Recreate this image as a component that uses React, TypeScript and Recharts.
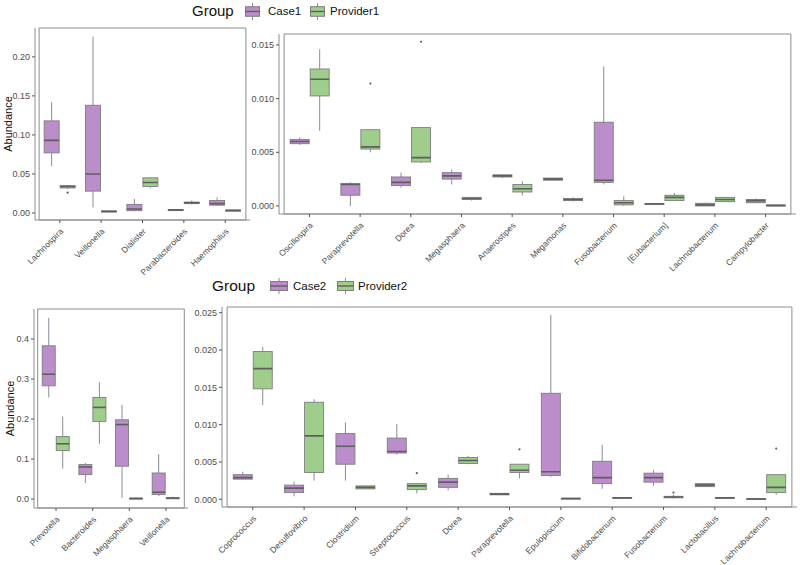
import React from 'react'
import { ComposedChart, Bar, XAxis, YAxis, ReferenceArea } from 'recharts'

// [whisker low, Q1, median, Q3, whisker high]
type Stats = number[]

const PURPLE = '#bb8dcb'
const GREEN = '#9fcd8b'
const EDGE = '#7d7d7d'
const FRAME = '#8e8e8e'
const TEXT = '#4d4d4d'

// top left panel
const genusA = ['Lachnospira', 'Veillonella', 'Dialister', 'Parabacteroides', 'Haemophilus']
const case1A: Stats[] = [
  [0.06, 0.077, 0.093, 0.118, 0.142],
  [0.007, 0.028, 0.05, 0.138, 0.226],
  [0.002, 0.003, 0.005, 0.011, 0.018],
  [0.0035, 0.0038, 0.004, 0.0043, 0.0046],
  [0.009, 0.01, 0.012, 0.016, 0.02],
]
const prov1A: Stats[] = [
  [0.031, 0.032, 0.034, 0.035, 0.036],
  [0.001, 0.0015, 0.002, 0.0025, 0.003],
  [0.032, 0.034, 0.039, 0.045, 0.046],
  [0.011, 0.012, 0.013, 0.014, 0.016],
  [0.0025, 0.003, 0.0033, 0.0036, 0.004],
]
const case1AOut: number[][] = [[], [], [], [], []]
const prov1AOut: number[][] = [[0.026], [], [], [], []]

// top right panel
const genusB = ['Oscillospira', 'Paraprevotella', 'Dorea', 'Megasphaera', 'Anaerostipes', 'Megamonas', 'Fusobacterium', '[Eubacterium]', 'Lachnobacterium', 'Campylobacter']
const case1B: Stats[] = [
  [0.0057, 0.0058, 0.006, 0.0062, 0.0064],
  [0.0, 0.001, 0.002, 0.0021, 0.0022],
  [0.0017, 0.0019, 0.0022, 0.0027, 0.0031],
  [0.002, 0.0025, 0.0028, 0.0031, 0.0034],
  [0.0026, 0.0027, 0.0028, 0.0029, 0.0029],
  [0.0024, 0.0024, 0.0025, 0.0026, 0.0026],
  [0.002, 0.0022, 0.0024, 0.0078, 0.013],
  [0.00015, 0.00018, 0.0002, 0.00022, 0.00025],
  [0.0, 0.0, 0.0001, 0.00025, 0.0003],
  [0.0003, 0.0003, 0.0005, 0.0006, 0.0007],
]
const prov1B: Stats[] = [
  [0.007, 0.01025, 0.0118, 0.01276, 0.0146],
  [0.005, 0.0053, 0.0055, 0.0071, 0.0071],
  [0.004, 0.0041, 0.0045, 0.0073, 0.0073],
  [0.0005, 0.0006, 0.0007, 0.0008, 0.0008],
  [0.001, 0.0013, 0.0016, 0.002, 0.0023],
  [0.0004, 0.0005, 0.0006, 0.0007, 0.0008],
  [0.0, 0.0001, 0.0003, 0.0005, 0.0009],
  [0.0005, 0.0005, 0.0008, 0.001, 0.0012],
  [0.0004, 0.0004, 0.0006, 0.0008, 0.0008],
  [0.0, 0.00002, 0.00005, 0.00008, 0.0001],
]
const case1BOut: number[][] = [[], [], [], [], [], [], [], [], [], []]
const prov1BOut: number[][] = [[], [0.0114], [0.0153], [], [], [], [], [], [], []]

// bottom left panel
const genusC = ['Prevotella', 'Bacteroides', 'Megasphaera', 'Veillonella']
const case2C: Stats[] = [
  [0.254, 0.283, 0.312, 0.383, 0.453],
  [0.04, 0.061, 0.08, 0.086, 0.09],
  [0.003, 0.082, 0.186, 0.198, 0.235],
  [0.007, 0.011, 0.017, 0.065, 0.112],
]
const prov2C: Stats[] = [
  [0.076, 0.121, 0.138, 0.156, 0.206],
  [0.138, 0.194, 0.229, 0.254, 0.292],
  [0.0, 0.001, 0.0015, 0.002, 0.003],
  [0.001, 0.002, 0.0025, 0.003, 0.006],
]
const case2COut: number[][] = [[], [], [], []]
const prov2COut: number[][] = [[], [], [], []]

// bottom right panel
const genusD = ['Coprococcus', 'Desulfovibrio', 'Clostridium', 'Streptococcus', 'Dorea', 'Paraprevotella', 'Epulopiscium', 'Bifidobacterium', 'Fusobacterium', 'Lactobacillus', 'Lachnobacterium']
const case2D: Stats[] = [
  [0.0027, 0.0027, 0.0029, 0.0033, 0.0037],
  [0.0004, 0.0009, 0.0015, 0.0019, 0.0024],
  [0.0025, 0.0047, 0.0071, 0.0088, 0.0103],
  [0.006, 0.0062, 0.0064, 0.0082, 0.0101],
  [0.0012, 0.0016, 0.0023, 0.0028, 0.0033],
  [0.0006, 0.0006, 0.0007, 0.0008, 0.0008],
  [0.003, 0.0032, 0.0037, 0.0142, 0.0247],
  [0.0014, 0.0021, 0.0029, 0.0051, 0.0073],
  [0.0018, 0.0023, 0.0029, 0.0035, 0.0039],
  [0.0017, 0.0017, 0.0019, 0.0021, 0.0021],
  [0.0, 0.00002, 0.00005, 0.0001, 0.0001],
]
const prov2D: Stats[] = [
  [0.0126, 0.0148, 0.0175, 0.0198, 0.0204],
  [0.0025, 0.0036, 0.0085, 0.013, 0.0134],
  [0.0014, 0.0014, 0.0016, 0.0018, 0.0018],
  [0.0008, 0.0013, 0.0018, 0.0021, 0.0022],
  [0.0047, 0.0048, 0.0052, 0.0056, 0.0058],
  [0.0028, 0.0036, 0.0039, 0.0047, 0.0047],
  [0.0, 0.00005, 0.0001, 0.00015, 0.0002],
  [0.0001, 0.00015, 0.0002, 0.00025, 0.0003],
  [0.0001, 0.0002, 0.0003, 0.0004, 0.0006],
  [0.0001, 0.00015, 0.0002, 0.00025, 0.0003],
  [0.0006, 0.0009, 0.0016, 0.0033, 0.0033],
]
const case2DOut: number[][] = [[], [], [], [], [], [], [], [], [], [], []]
const prov2DOut: number[][] = [[], [], [], [0.0035], [], [0.0067], [], [], [0.0009], [], [0.0068]]

const ticksA = [0, 0.05, 0.1, 0.15, 0.2]
const ticksB = [0, 0.005, 0.01, 0.015]
const ticksC = [0, 0.1, 0.2, 0.3, 0.4]
const ticksD = [0, 0.005, 0.01, 0.015, 0.02, 0.025]

const makeRows = (genus: string[], a: Stats[], aOut: number[][], b: Stats[], bOut: number[][]) =>
  genus.map((g, i) => ({ genus: g, a: a[i], aOut: aOut[i], b: b[i], bOut: bOut[i] }))

const span = (s: Stats, outs: number[]) => {
  const all = [...s, ...outs]
  return [Math.min(...all), Math.max(...all)]
}

function BoxShape(props: any) {
  const { x, y, width, height, stats, outs, fill } = props
  if (!stats) return null
  const top = Math.min(y, y + height)
  const bot = Math.max(y, y + height)
  const [lo, hi] = span(stats, outs)
  const py = (v: number) => (hi === lo ? bot : bot - ((v - lo) / (hi - lo)) * (bot - top))
  const cx = x + width / 2
  const [wl, q1, md, q3, wh] = stats
  const boxTop = py(q3)
  const boxH = Math.max(py(q1) - boxTop, 1)
  return (
    <g>
      <line x1={cx} x2={cx} y1={py(wh)} y2={boxTop} stroke="#888d96" strokeWidth={1} />
      <line x1={cx} x2={cx} y1={py(q1)} y2={py(wl)} stroke="#888d96" strokeWidth={1} />
      <rect x={x + 0.5} y={boxTop} width={width - 1} height={boxH} fill={fill} stroke={EDGE} strokeWidth={0.9} />
      <line x1={x + 0.5} x2={x + width - 0.5} y1={py(md)} y2={py(md)} stroke="#5f5f5f" strokeWidth={1.6} />
      {outs.map((o: number, i: number) => (
        <circle key={i} cx={cx} cy={py(o)} r={1.1} fill="#606060" />
      ))}
    </g>
  )
}

const SlantTick = ({ x, y, payload }: any) => (
  <g transform={`translate(${x + 4},${y + 7})`}>
    <text transform="rotate(-45)" textAnchor="end" fontSize={8.5} fill={TEXT}>
      {payload.value}
    </text>
  </g>
)

interface PanelProps {
  rows: any[]
  left: number
  top: number
  width: number
  height: number
  margin: { top: number; right: number; left: number; bottom: number }
  yWidth: number
  xHeight: number
  pad: number
  domain: number[]
  ticks: number[]
  digits: number
  label?: number
}

function Panel(p: PanelProps) {
  return (
    <div style={{ position: 'absolute', left: p.left, top: p.top }}>
      <ComposedChart
        width={p.width}
        height={p.height}
        data={p.rows}
        margin={p.margin}
        barCategoryGap="11%"
        barGap={0}
      >
        <XAxis
          dataKey="genus"
          interval={0}
          height={p.xHeight}
          padding={{ left: p.pad, right: p.pad }}
          tick={<SlantTick />}
          tickSize={3}
          axisLine={{ stroke: FRAME }}
          tickLine={{ stroke: '#555' }}
        />
        <YAxis
          type="number"
          domain={p.domain}
          allowDataOverflow
          ticks={p.ticks}
          width={p.yWidth}
          tickSize={3}
          tickFormatter={(v: number) => v.toFixed(p.digits)}
          tick={{ fontSize: 9, fill: TEXT }}
          axisLine={{ stroke: FRAME }}
          tickLine={{ stroke: '#555' }}
          label={
            p.label !== undefined
              ? {
                  value: 'Abundance',
                  angle: -90,
                  position: 'insideLeft',
                  offset: p.label,
                  style: { textAnchor: 'middle', fontSize: 11, fill: '#111' },
                }
              : undefined
          }
        />
        {/* panel frame */}
        <ReferenceArea
          y1={p.domain[0]}
          y2={p.domain[1]}
          fill="none"
          fillOpacity={0}
          stroke={FRAME}
          strokeWidth={1}
          ifOverflow="visible"
        />
        <Bar
          dataKey={(d: any) => span(d.a, d.aOut)}
          fill={PURPLE}
          isAnimationActive={false}
          shape={(s: any) => <BoxShape {...s} stats={s.payload.a} outs={s.payload.aOut} fill={PURPLE} />}
        />
        <Bar
          dataKey={(d: any) => span(d.b, d.bOut)}
          fill={GREEN}
          isAnimationActive={false}
          shape={(s: any) => <BoxShape {...s} stats={s.payload.b} outs={s.payload.bOut} fill={GREEN} />}
        />
      </ComposedChart>
    </div>
  )
}

const LegendKey = ({ fill, w, h }: { fill: string; w: number; h: number }) => (
  <svg width={w} height={h} style={{ display: 'block' }}>
    <line x1={w / 2} x2={w / 2} y1={0} y2={h} stroke="#888d96" />
    <rect x={0.5} y={h * 0.22} width={w - 1} height={h * 0.56} fill={fill} stroke={EDGE} />
    <line x1={0.5} x2={w - 0.5} y1={h / 2} y2={h / 2} stroke="#5f5f5f" strokeWidth={1.4} />
  </svg>
)

const abs = (left: number, top: number, extra: React.CSSProperties = {}): React.CSSProperties => ({
  position: 'absolute',
  left,
  top,
  whiteSpace: 'nowrap',
  ...extra,
})

export default function App() {
  const rowsA = makeRows(genusA, case1A, case1AOut, prov1A, prov1AOut)
  const rowsB = makeRows(genusB, case1B, case1BOut, prov1B, prov1BOut)
  const rowsC = makeRows(genusC, case2C, case2COut, prov2C, prov2COut)
  const rowsD = makeRows(genusD, case2D, case2DOut, prov2D, prov2DOut)

  return (
    <div
      style={{
        position: 'absolute',
        left: 0,
        top: 0,
        width: 800,
        height: 565,
        background: '#fff',
        overflow: 'hidden',
        fontFamily: '"Liberation Sans", Arial, sans-serif',
      }}
    >
      <Panel
        rows={rowsA}
        left={0}
        top={20}
        width={255}
        height={262}
        margin={{ top: 8, right: 5, left: 0, bottom: 0 }}
        yWidth={35}
        xHeight={62}
        pad={4.1}
        domain={[-0.009, 0.237]}
        ticks={ticksA}
        digits={2}
        label={8}
      />
      <Panel
        rows={rowsB}
        left={250}
        top={20}
        width={550}
        height={262}
        margin={{ top: 14, right: 4, left: 0, bottom: 0 }}
        yWidth={29}
        xHeight={68}
        pad={5.1}
        domain={[-0.00075, 0.01602]}
        ticks={ticksB}
        digits={3}
      />
      <Panel
        rows={rowsC}
        left={0}
        top={290}
        width={195}
        height={275}
        margin={{ top: 19, right: 7, left: 0, bottom: 0 }}
        yWidth={34}
        xHeight={57}
        pad={3.7}
        domain={[-0.0225, 0.475]}
        ticks={ticksC}
        digits={1}
        label={10}
      />
      <Panel
        rows={rowsD}
        left={190}
        top={290}
        width={610}
        height={275}
        margin={{ top: 17, right: 3, left: 0, bottom: 0 }}
        yWidth={32}
        xHeight={58}
        pad={5.1}
        domain={[-0.00103, 0.02576]}
        ticks={ticksD}
        digits={3}
      />

      {/* top legend */}
      <div style={abs(192, 1, { fontSize: 15, color: '#111', lineHeight: '20px' })}>Group</div>
      <div style={abs(245, 3)}><LegendKey fill={PURPLE} w={15} h={17} /></div>
      <div style={abs(268, 4, { fontSize: 11.5, color: '#111', lineHeight: '15px' })}>Case1</div>
      <div style={abs(310, 3)}><LegendKey fill={GREEN} w={15} h={17} /></div>
      <div style={abs(330, 4, { fontSize: 11.5, color: '#111', lineHeight: '15px' })}>Provider1</div>

      {/* bottom legend */}
      <div style={abs(212, 276, { fontSize: 15.5, color: '#111', lineHeight: '20px' })}>Group</div>
      <div style={abs(270, 278)}><LegendKey fill={PURPLE} w={18} h={16} /></div>
      <div style={abs(293, 279, { fontSize: 11.5, color: '#111', lineHeight: '15px' })}>Case2</div>
      <div style={abs(337, 278)}><LegendKey fill={GREEN} w={17} h={16} /></div>
      <div style={abs(358, 279, { fontSize: 11.5, color: '#111', lineHeight: '15px' })}>Provider2</div>
    </div>
  )
}
